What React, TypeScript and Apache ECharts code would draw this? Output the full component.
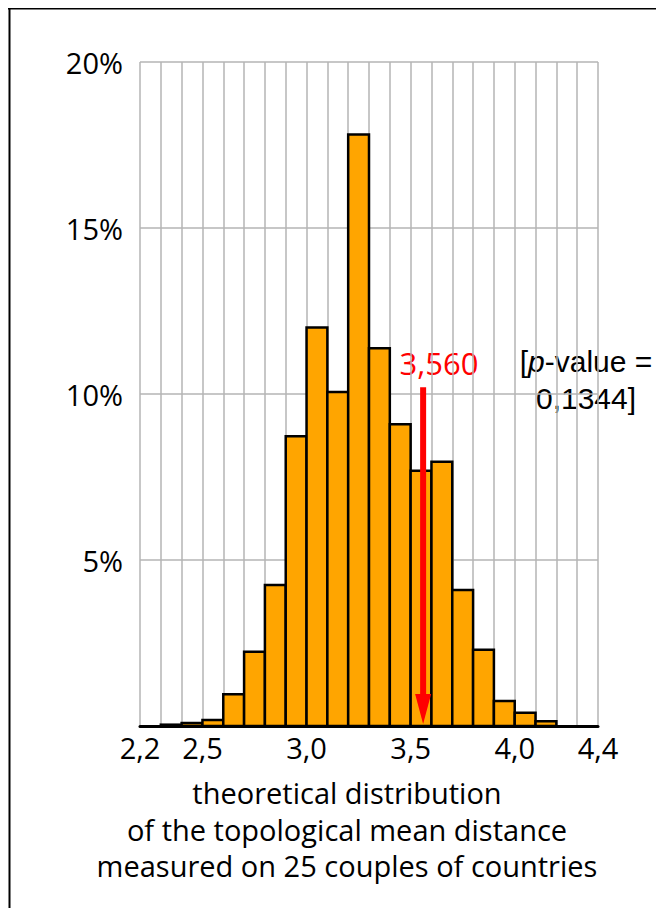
import React, { useEffect, useRef } from "react";
import * as echarts from "echarts";

// Histogram bins (lower bound of each 0.1-wide bin) and share of simulations (%)
const binStarts = [2.3, 2.4, 2.5, 2.6, 2.7, 2.8, 2.9, 3.0, 3.1, 3.2, 3.3, 3.4, 3.5, 3.6, 3.7, 3.8, 3.9, 4.0, 4.1];
const shares = [0.04, 0.09, 0.18, 0.96, 2.24, 4.25, 8.73, 12.0, 10.06, 17.82, 11.38, 9.09, 7.69, 7.96, 4.1, 2.3, 0.75, 0.4, 0.14];
const binWidth = 0.1;

// Observed value marker
const observedValue = 3.56;
const observedLabel = "3,560";
const arrowTop = 10.2;
const pValueLine1 = "[{i|p}-value =";
const pValueLine2 = "0,1344]";

// Axis settings
const xMin = 2.2;
const xMax = 4.4;
const xLabelTicks = [2.2, 2.5, 3.0, 3.5, 4.0, 4.4];
const yMax = 20;
const yStep = 5;

const titleLines = [
  "theoretical distribution",
  "of the topological mean distance",
  "measured on 25 couples of countries",
];

const FONT = "'Open Sans', 'Noto Sans', sans-serif";
const PFONT = "'Liberation Sans', Arial, sans-serif";

export default function App() {
  const ref = useRef<HTMLDivElement>(null);

  useEffect(() => {
    if (!ref.current) return;
    const chart = echarts.init(ref.current, undefined, { renderer: "svg" });
    const labelSet = new Set(xLabelTicks.map((v) => Math.round(v * 10)));

    const option: any = {
      animation: false,
      backgroundColor: "#ffffff",
      grid: { left: 132, right: 66, top: 54, bottom: 182, containLabel: false },
      xAxis: [
        {
          type: "value",
          min: xMin,
          max: xMax,
          interval: 0.1,
          axisLine: { show: false },
          axisTick: { show: false },
          splitLine: { show: true, lineStyle: { color: "#b4b4b4", width: 1.5 } },
          axisLabel: {
            show: true,
            margin: 7,
            fontSize: 29,
            color: "#000",
            fontFamily: FONT,
            showMinLabel: true,
            showMaxLabel: true,
            hideOverlap: false,
            formatter: (v: number) =>
              labelSet.has(Math.round(v * 10)) ? v.toFixed(1).replace(".", ",") : "",
          },
        },
        {
          type: "value",
          min: xMin,
          max: xMax,
          position: "bottom",
          z: 10,
          axisLine: { show: true, onZero: false, lineStyle: { color: "#000", width: 3 } },
          axisTick: { show: false },
          splitLine: { show: false },
          axisLabel: { show: false },
        },
      ],
      yAxis: {
        type: "value",
        min: 0,
        max: yMax,
        interval: yStep,
        axisLine: { show: false },
        axisTick: { show: false },
        splitLine: { show: true, lineStyle: { color: "#b4b4b4", width: 1.5 } },
        axisLabel: {
          margin: 17,
          fontSize: 29,
          color: "#000",
          fontFamily: FONT,
          formatter: (v: number) => (v === 0 ? "" : v + "%"),
        },
      },
      series: [
        {
          type: "custom",
          xAxisIndex: 0,
          z: 3,
          data: binStarts.map((s, i) => [s, shares[i]]),
          renderItem: (params: any, api: any) => {
            const x0 = api.value(0);
            const y = api.value(1);
            const p0 = api.coord([x0, y]);
            const p1 = api.coord([x0 + binWidth, 0]);
            return {
              type: "rect",
              shape: { x: p0[0], y: p0[1], width: p1[0] - p0[0], height: p1[1] - p0[1] },
              style: { fill: "#FFA500", stroke: "#000", lineWidth: 2.5 },
            };
          },
        },
        {
          type: "custom",
          xAxisIndex: 0,
          z: 5,
          data: [[observedValue, arrowTop]],
          renderItem: (params: any, api: any) => {
            const top = api.coord([api.value(0), api.value(1)]);
            const bottom = api.coord([api.value(0), 0]);
            const headLen = 32;
            const headHalf = 8;
            return {
              type: "group",
              children: [
                {
                  type: "line",
                  shape: { x1: top[0], y1: top[1], x2: bottom[0], y2: bottom[1] - headLen + 2 },
                  style: { stroke: "#ff0000", lineWidth: 6 },
                },
                {
                  type: "polygon",
                  shape: {
                    points: [
                      [bottom[0] - headHalf, bottom[1] - headLen],
                      [bottom[0] + headHalf, bottom[1] - headLen],
                      [bottom[0], bottom[1] - 2],
                    ],
                  },
                  style: { fill: "#ff0000" },
                },
              ],
            };
          },
        },
      ],
      graphic: [
        {
          type: "line",
          shape: { x1: 1.5, y1: 0, x2: 1.5, y2: 900 },
          style: { stroke: "#000", lineWidth: 2 },
        },
        {
          type: "line",
          shape: { x1: 0, y1: 0.5, x2: 656, y2: 0.5 },
          style: { stroke: "#000", lineWidth: 2 },
        },
        {
          type: "text",
          x: 431,
          y: 355,
          style: {
            text: observedLabel,
            fill: "#ff0000",
            fontSize: 31,
            fontFamily: FONT,
            align: "center",
            verticalAlign: "middle",
          },
        },
        {
          type: "text",
          x: 578,
          y: 370.5,
          style: {
            text: pValueLine1,
            fill: "#000",
            fontSize: 30,
            lineHeight: 34,
            fontFamily: PFONT,
            align: "center",
            verticalAlign: "bottom",
            rich: {
              i: { fontStyle: "italic", fontSize: 30, lineHeight: 34, fontFamily: PFONT, fill: "#000" },
            },
          },
        },
        {
          type: "text",
          x: 578,
          y: 373,
          style: {
            text: pValueLine2,
            fill: "#000",
            fontSize: 30,
            lineHeight: 34,
            fontFamily: PFONT,
            align: "center",
            verticalAlign: "top",
          },
        },
        {
          type: "text",
          x: 339,
          y: 821,
          style: {
            text: titleLines.join("\n"),
            fill: "#000",
            fontSize: 29,
            fontFamily: FONT,
            lineHeight: 36.5,
            align: "center",
            verticalAlign: "middle",
          },
        },
      ],
    };

    chart.setOption(option);
    return () => chart.dispose();
  }, []);

  return <div ref={ref} style={{ width: 656, height: 900 }} />;
}
